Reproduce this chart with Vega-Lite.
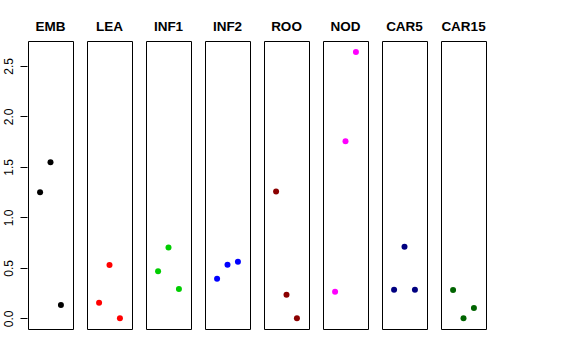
{
  "$schema": "https://vega.github.io/schema/vega-lite/v6.json",
  "padding": {"left": 1, "top": 19, "right": 5, "bottom": 5},
  "background": "white",
  "data": {"values": [
    {"panel": "EMB", "x": 1, "y": 1.249},
    {"panel": "EMB", "x": 2, "y": 1.546},
    {"panel": "EMB", "x": 3, "y": 0.132},
    {"panel": "LEA", "x": 1, "y": 0.154},
    {"panel": "LEA", "x": 2, "y": 0.527},
    {"panel": "LEA", "x": 3, "y": 0.0},
    {"panel": "INF1", "x": 1, "y": 0.465},
    {"panel": "INF1", "x": 2, "y": 0.702},
    {"panel": "INF1", "x": 3, "y": 0.290},
    {"panel": "INF2", "x": 1, "y": 0.392},
    {"panel": "INF2", "x": 2, "y": 0.530},
    {"panel": "INF2", "x": 3, "y": 0.560},
    {"panel": "ROO", "x": 1, "y": 1.256},
    {"panel": "ROO", "x": 2, "y": 0.233},
    {"panel": "ROO", "x": 3, "y": 0.0},
    {"panel": "NOD", "x": 1, "y": 0.263},
    {"panel": "NOD", "x": 2, "y": 1.754},
    {"panel": "NOD", "x": 3, "y": 2.637},
    {"panel": "CAR5", "x": 1, "y": 0.283},
    {"panel": "CAR5", "x": 2, "y": 0.708},
    {"panel": "CAR5", "x": 3, "y": 0.283},
    {"panel": "CAR15", "x": 1, "y": 0.280},
    {"panel": "CAR15", "x": 2, "y": 0.0},
    {"panel": "CAR15", "x": 3, "y": 0.102}
  ]},
  "facet": {
    "column": {
      "field": "panel",
      "type": "nominal",
      "sort": ["EMB", "LEA", "INF1", "INF2", "ROO", "NOD", "CAR5", "CAR15"],
      "title": null,
      "header": {
        "labelFont": "Liberation Sans",
        "labelFontSize": 13.5,
        "labelFontWeight": "bold",
        "labelColor": "black",
        "labelPadding": 7
      }
    }
  },
  "spacing": 12,
  "spec": {
    "width": 45,
    "height": 288,
    "mark": {"type": "point", "filled": true, "size": 36, "opacity": 1},
    "encoding": {
      "x": {
        "field": "x",
        "type": "quantitative",
        "scale": {"domain": [-0.16, 4.16], "nice": false, "zero": false},
        "axis": null
      },
      "y": {
        "field": "y",
        "type": "quantitative",
        "scale": {"domain": [-0.1056, 2.7456], "nice": false, "zero": false},
        "axis": {
          "title": null,
          "values": [0, 0.5, 1, 1.5, 2, 2.5],
          "format": ".1f",
          "grid": false,
          "domain": false,
          "tickSize": 7,
          "tickColor": "black",
          "labelAngle": -90,
          "labelAlign": "center",
          "labelBaseline": "bottom",
          "labelPadding": 5,
          "labelFont": "Liberation Sans",
          "labelFontSize": 12,
          "labelColor": "black"
        }
      },
      "color": {
        "field": "panel",
        "type": "nominal",
        "scale": {
          "domain": ["EMB", "LEA", "INF1", "INF2", "ROO", "NOD", "CAR5", "CAR15"],
          "range": ["#000000", "#FF0000", "#00CD00", "#0000FF", "#8B0000", "#FF00FF", "#000080", "#006400"]
        },
        "legend": null
      }
    }
  },
  "config": {
    "view": {"stroke": "black", "strokeWidth": 1}
  }
}
